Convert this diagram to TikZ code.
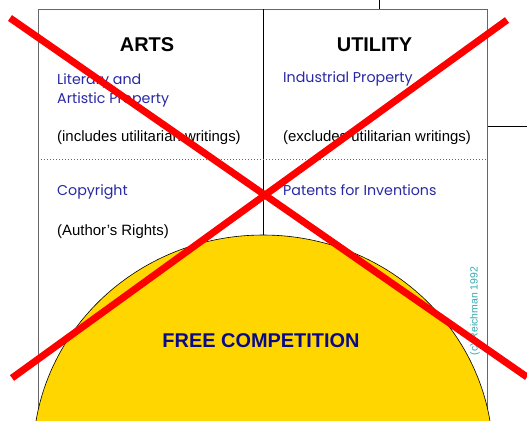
\documentclass[tikz,border=0pt]{standalone}
\usepackage{fontspec}
\setmainfont{Liberation Sans}
\newfontfamily\geofont{Poppins}
\usetikzlibrary{positioning, shapes, calc}

\definecolor{fieldblue}{RGB}{40,40,165}
\definecolor{navyblue}{RGB}{10,10,135}
\definecolor{signteal}{RGB}{50,170,175}
\definecolor{sungold}{RGB}{255,214,0}

\begin{document}
\begin{tikzpicture}[
  x=1bp, y=-1bp,
  heading/.style={
    inner sep=0pt, anchor=base,
    font=\fontsize{20}{24}\selectfont\bfseries
  },
  field/.style={
    inner sep=0pt, anchor=base west,
    text=fieldblue,
    font=\geofont\fontsize{14.3}{19}\selectfont % geometric sans for the fields
  },
  remark/.style={
    inner sep=0pt, anchor=base west,
    font=\fontsize{15}{18}\selectfont
  },
  frame/.style={draw=black!60, line width=1bp},
  cross/.style={draw=red, line width=7bp}
]
\clip (0,0) rectangle (527,420);

% stubs of the outer chart
\draw[line width=0.8bp] (379,0) -- (379,9);
\draw[line width=0.8bp] (487,126) -- (527,126);

% the two columns
\draw[frame] (38,430) -- (38,9) -- (487,9) -- (487,430);
\draw[line width=0.8bp] (263,9) -- (263,240);
\draw[black!60, line width=0.8bp, dash pattern=on 1bp off 2bp] (38,159) -- (487,159);

\node[heading] (arts) at (147,51) {ARTS};
\node[heading] (utility) at (374.5,51) {UTILITY};

\node[field] (literary) at (57,84) {Literary and};
\node[field] (artistic) at (57,103.3) {Artistic Property};
\node[field] (industrial) at (283,82.7) {Industrial Property};
\node[remark] (includes) at (57,141) {(includes utilitarian writings)};
\node[remark] (excludes) at (283,141) {(excludes utilitarian writings)};

\node[field] (copyright) at (57,195) {Copyright};
\node[field] (patents) at (283,195) {Patents for Inventions};
\node[remark] (authors) at (57,235) {(Author’s Rights)};

% the rising sun
\draw[fill=sungold, line width=0.6bp] (263,457) ellipse [x radius=230, y radius=222];
\node[heading, text=navyblue] (freecomp) at (261,347.3) {FREE COMPETITION};

\node[rotate=90, inner sep=0pt, text=signteal,
  font=\fontsize{10.5}{12}\selectfont] (signature) at (475,311) {(c) Reichman 1992};

% struck out
\draw[cross] (10,18) -- (527,377);
\draw[cross] (507,20) -- (12,378);
\end{tikzpicture}
\end{document}
